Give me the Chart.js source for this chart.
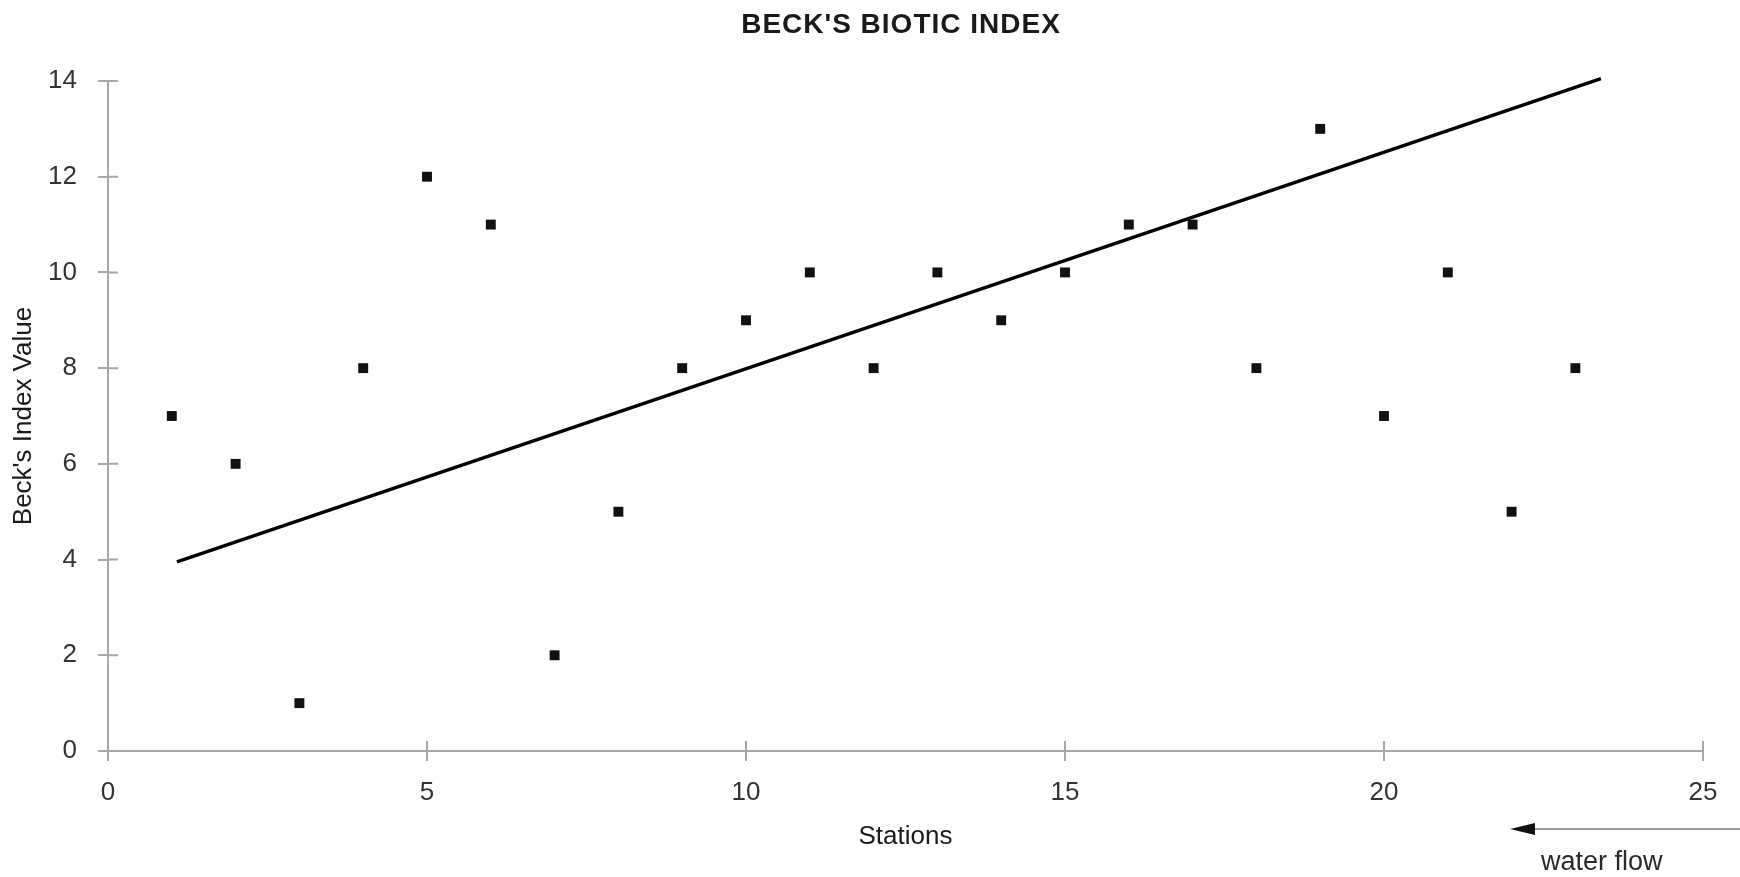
<!DOCTYPE html>
<html>
<head>
<meta charset="utf-8">
<title>Beck's Biotic Index</title>
<script src="https://cdn.jsdelivr.net/npm/chart.js@4/dist/chart.umd.min.js"></script>
<style>
  html, body { margin: 0; padding: 0; background: #ffffff; }
  canvas { display: block; }
</style>
</head>
<body>
<canvas id="chart" width="1740" height="877"></canvas>
<script>
// Sampling stations along the stream and the Beck's index recorded at each
const stations = [1, 2, 3, 4, 5, 6, 7, 8, 9, 10, 11, 12, 13, 14, 15, 16, 17, 18, 19, 20, 21, 22, 23];
const indexValues = [7, 6, 1, 8, 12, 11, 2, 5, 8, 9, 10, 8, 10, 9, 10, 11, 11, 8, 13, 7, 10, 5, 8];

// Straight trend line drawn across the stations (end points)
const trendStations = [1.08, 23.4];
const trendValues = [3.95, 14.05];

// Axis ranges and tick spacing
const xRange = [0, 25];
const xStep = 5;
const yRange = [0, 14];
const yStep = 2;

const chartTitle = "BECK'S BIOTIC INDEX";
const xAxisTitle = 'Stations';
const yAxisTitle = "Beck's Index Value";
const flowLabel = 'water flow';

const FONT = "'Liberation Sans', Arial, Helvetica, sans-serif";
const AXIS_GREY = '#a8a8a8';

const points = stations.map((s, i) => ({ x: s, y: indexValues[i] }));
const trend = trendStations.map((s, i) => ({ x: s, y: trendValues[i] }));

// Title, inner halves of the tick marks and the flow-direction arrow
const decorations = {
  id: 'decorations',
  afterDraw(chart) {
    const { ctx, chartArea, scales } = chart;
    ctx.save();

    // tick marks cross the axis lines
    ctx.strokeStyle = AXIS_GREY;
    ctx.lineWidth = 2;
    ctx.beginPath();
    scales.x.ticks.forEach(t => {
      const px = scales.x.getPixelForValue(t.value);
      ctx.moveTo(px, chartArea.bottom);
      ctx.lineTo(px, chartArea.bottom - 10);
    });
    scales.y.ticks.forEach(t => {
      const py = scales.y.getPixelForValue(t.value);
      ctx.moveTo(chartArea.left, py);
      ctx.lineTo(chartArea.left + 10, py);
    });
    ctx.stroke();

    // chart title
    ctx.fillStyle = '#1a1a1a';
    ctx.font = 'bold 28px ' + FONT;
    ctx.textAlign = 'center';
    ctx.textBaseline = 'alphabetic';
    if ('letterSpacing' in ctx) ctx.letterSpacing = '1px';
    ctx.fillText(chartTitle, 901, 33);
    if ('letterSpacing' in ctx) ctx.letterSpacing = '0px';

    // water flow arrow (pointing upstream, towards station 1)
    const ay = 829;
    ctx.strokeStyle = '#9a9a9a';
    ctx.lineWidth = 2;
    ctx.beginPath();
    ctx.moveTo(1530, ay);
    ctx.lineTo(1740, ay);
    ctx.stroke();
    ctx.fillStyle = '#111111';
    ctx.beginPath();
    ctx.moveTo(1510, ay);
    ctx.lineTo(1535, ay - 6);
    ctx.lineTo(1535, ay + 6);
    ctx.closePath();
    ctx.fill();

    ctx.fillStyle = '#2a2a2a';
    ctx.font = '27px ' + FONT;
    ctx.textAlign = 'left';
    ctx.textBaseline = 'alphabetic';
    ctx.fillText(flowLabel, 1541, 870);

    ctx.restore();
  }
};

new Chart(document.getElementById('chart'), {
  type: 'scatter',
  data: {
    datasets: [
      {
        label: 'Index value',
        data: points,
        showLine: false,
        pointStyle: 'rect',
        pointRadius: 7,
        pointHoverRadius: 7,
        pointBackgroundColor: '#111111',
        pointBorderColor: '#111111',
        pointBorderWidth: 0
      },
      {
        label: 'Trend',
        type: 'line',
        data: trend,
        borderColor: '#000000',
        borderWidth: 3.5,
        pointRadius: 0,
        fill: false,
        tension: 0,
        clip: false
      }
    ]
  },
  options: {
    responsive: false,
    animation: false,
    devicePixelRatio: 1,
    layout: { padding: { top: 81, right: 37, bottom: 0, left: 0 } },
    plugins: {
      legend: { display: false },
      tooltip: { enabled: false },
      title: { display: false }
    },
    scales: {
      x: {
        type: 'linear',
        min: xRange[0],
        max: xRange[1],
        afterFit(scale) { scale.height = 126; },
        ticks: {
          stepSize: xStep,
          padding: 16,
          color: '#333333',
          font: { family: FONT, size: 26 }
        },
        grid: {
          display: true,
          drawOnChartArea: false,
          drawTicks: true,
          tickLength: 10,
          color: AXIS_GREY,
          lineWidth: 2
        },
        border: { display: true, color: AXIS_GREY, width: 2 },
        title: {
          display: true,
          text: xAxisTitle,
          color: '#1a1a1a',
          font: { family: FONT, size: 26 },
          padding: { top: 0, bottom: 25 }
        }
      },
      y: {
        type: 'linear',
        min: yRange[0],
        max: yRange[1],
        afterFit(scale) { scale.width = 108; },
        ticks: {
          stepSize: yStep,
          padding: 21,
          color: '#333333',
          font: { family: FONT, size: 26 }
        },
        grid: {
          display: true,
          drawOnChartArea: false,
          drawTicks: true,
          tickLength: 10,
          color: AXIS_GREY,
          lineWidth: 2
        },
        border: { display: true, color: AXIS_GREY, width: 2 },
        title: {
          display: true,
          text: yAxisTitle,
          color: '#1a1a1a',
          font: { family: FONT, size: 26 },
          padding: { top: 8, bottom: 0 }
        }
      }
    }
  },
  plugins: [decorations]
});
</script>
</body>
</html>
